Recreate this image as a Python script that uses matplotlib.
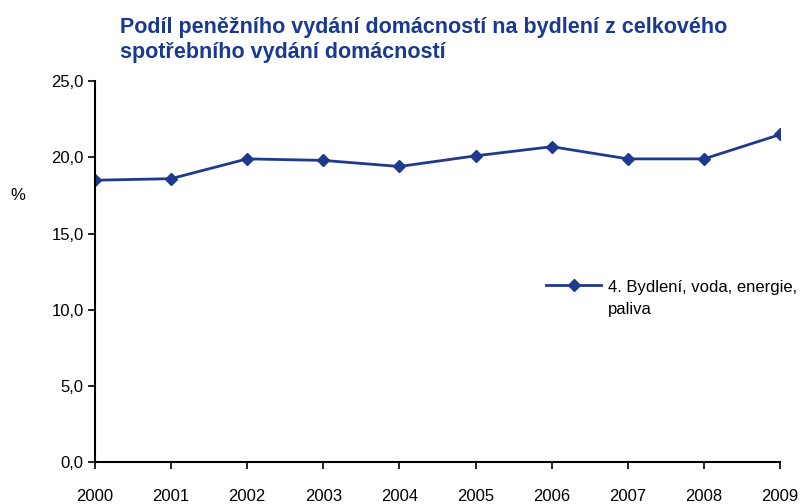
import matplotlib
matplotlib.use("Agg")
import matplotlib.pyplot as plt
from matplotlib.ticker import FuncFormatter
from matplotlib.legend_handler import HandlerLine2D

plt.rcParams['font.family'] = ['Liberation Sans', 'DejaVu Sans']

years = [2000, 2001, 2002, 2003, 2004, 2005, 2006, 2007, 2008, 2009]
values = [18.5, 18.6, 19.9, 19.8, 19.4, 20.1, 20.7, 19.9, 19.9, 21.5]
series_label = "4. Bydlení, voda, energie,\npaliva"
title = "Podíl peněžního vydání domácností na bydlení z celkového\nspotřebního vydání domácností"
yticks = [0, 5, 10, 15, 20, 25]


class TopLineHandler(HandlerLine2D):
    def create_artists(self, legend, orig_handle, xdescent, ydescent,
                       width, height, fontsize, trans):
        return super().create_artists(legend, orig_handle, xdescent,
                                      ydescent - fontsize * 1.7, width, height,
                                      fontsize, trans)


fig = plt.figure(figsize=(8.11, 5.04), dpi=100)
ax = fig.add_axes([0.117, 0.083, 0.845, 0.756])

line_color = '#1F3A8C'
ln, = ax.plot(years, values, color=line_color, lw=2, marker='D', ms=6, label=series_label)

ax.set_xlim(2000, 2009)
ax.set_ylim(0, 25)
ax.set_yticks(yticks)
ax.yaxis.set_major_formatter(FuncFormatter(lambda v, p: f"{v:.1f}".replace('.', ',')))
ax.set_xticks(years)
ax.set_xticklabels([str(y) for y in years])

for s in ['top', 'right']:
    ax.spines[s].set_visible(False)
for s in ['left', 'bottom']:
    ax.spines[s].set_linewidth(1.5)
    ax.spines[s].set_color('black')

ax.tick_params(axis='both', labelsize=12, length=5, width=1.2, direction='out')
ax.tick_params(axis='x', pad=14)
ax.tick_params(axis='y', pad=3)

fig.text(18 / 811, 1 - 195 / 504, '%', fontsize=12, ha='center', va='center')

fig.text(120 / 811, 1 - 40 / 504, title, fontsize=15.5, fontweight='bold',
         color='#1A3A90', ha='left', va='center', linespacing=1.3)

leg = ax.legend(loc='upper left', bbox_to_anchor=(538 / 811, 1 - 272 / 504),
                bbox_transform=fig.transFigure, frameon=False, fontsize=12,
                handlelength=3.3, handletextpad=0.4, borderpad=0,
                handler_map={ln: TopLineHandler()})
for t in leg.get_texts():
    t.set_linespacing(1.55)

fig.savefig('out.png', dpi=100)
